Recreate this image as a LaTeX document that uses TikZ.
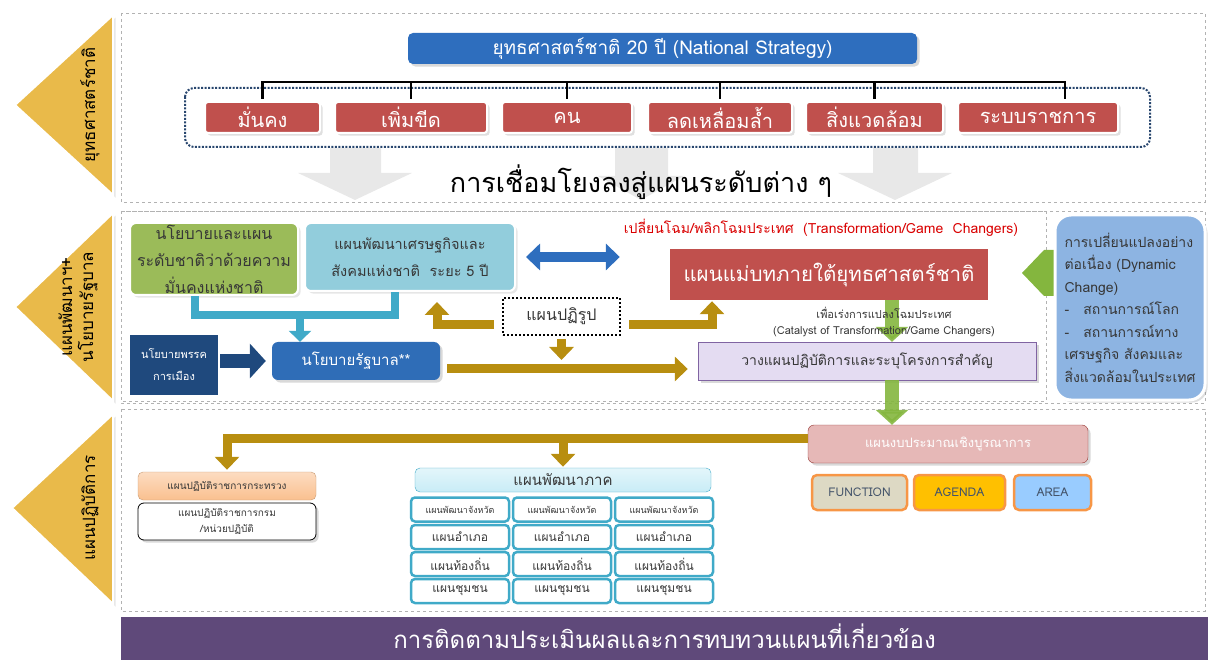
\documentclass[tikz,border=0pt]{standalone}
\usepackage{fontspec}
\setmainfont[Script=Thai]{Loma}
\usetikzlibrary{arrows.meta,shadows}

\definecolor{trigold}{RGB}{233,186,74}
\definecolor{redb}{RGB}{192,80,77}
\definecolor{natblue}{RGB}{46,110,190}
\definecolor{navyd}{RGB}{40,70,110}
\definecolor{goldc}{RGB}{184,142,16}
\definecolor{greenc}{RGB}{132,182,62}
\definecolor{greenbox}{RGB}{155,187,89}
\definecolor{lightbox}{RGB}{146,205,220}
\definecolor{tealc}{RGB}{64,170,200}
\definecolor{partyc}{RGB}{31,73,125}
\definecolor{govc}{RGB}{47,109,183}
\definecolor{dync}{RGB}{141,180,226}
\definecolor{actfill}{RGB}{228,220,242}
\definecolor{actline}{RGB}{128,100,162}
\definecolor{minc}{RGB}{250,192,143}
\definecolor{regc}{RGB}{200,236,246}
\definecolor{budc}{RGB}{230,184,183}
\definecolor{budline}{RGB}{150,55,52}
\definecolor{fnc}{RGB}{221,217,196}
\definecolor{agc}{RGB}{255,192,0}
\definecolor{arc}{RGB}{153,204,255}
\definecolor{kpiline}{RGB}{247,150,70}
\definecolor{kpitext}{RGB}{68,84,106}
\definecolor{evalc}{RGB}{95,73,122}
\definecolor{txt}{RGB}{55,55,55}

\begin{document}
\begin{tikzpicture}[x=1pt, y=-1pt,
  panel/.style={draw=gray!60, dashed, line width=0.5pt},
  tri/.style={fill=trigold, draw=white, line width=2pt, drop shadow={opacity=0.2}},
  tritext/.style={rotate=90, font=\fontsize{17}{21}\selectfont, align=center},
  redbox/.style={fill=redb, draw=white, line width=2pt, rounded corners=3pt, text=white,
    inner sep=0pt, minimum height=31pt, font=\fontsize{20}{22}\selectfont, drop shadow={opacity=0.25}},
  box/.style={rounded corners=6pt, inner sep=0pt, align=center},
  bigdown/.style={fill=gray!18},
  goldline/.style={draw=goldc, line width=9pt},
  goldarr/.style={goldline, -{Triangle[width=24pt,length=13pt]}},
  greenarr/.style={draw=greenc, opacity=0.9, line width=14pt, -{Triangle[width=32pt,length=15pt]}},
  cell/.style={draw=tealc, line width=2.5pt, fill=white, rounded corners=4pt, minimum width=98pt,
    minimum height=24pt, inner sep=0pt, text=txt, font=\fontsize{12}{13}\selectfont},
  kpi/.style={draw=kpiline, line width=2.5pt, rounded corners=5pt, minimum height=35pt, inner sep=0pt,
    text=kpitext, font=\fontsize{12}{14}\selectfont},
]
\useasboundingbox (0,0) rectangle (1208,660);

% แถบด้านซ้าย
\filldraw[tri] (113,15) -- (15,105) -- (113,195) -- cycle;
\filldraw[tri] (113,213) -- (15,307) -- (113,401) -- cycle;
\filldraw[tri] (113,414) -- (12,508) -- (113,604) -- cycle;
\node[tritext] (t1) at (90,105) {ยุทธศาสตร์ชาติ};
\node[tritext] (t2) at (78,307) {แผนพัฒนาฯ+\\นโยบายรัฐบาล};
\node[tritext] (t3) at (90,508) {แผนปฏิบัติการ};

% กรอบแต่ละระดับ
\draw[panel] (121,13) rectangle (1205,202);
\draw[panel] (121,211) rectangle (1205,403);
\draw[panel] (121,211) rectangle (1046,401);
\draw[panel] (121,409) rectangle (1205,611);

% ระดับยุทธศาสตร์ชาติ
\fill[bigdown] (330,148) -- (381,148) -- (381,173) -- (412,173) -- (355,200) -- (298,173) -- (330,173) -- cycle;
\fill[bigdown] (615,148) -- (668,148) -- (668,176) -- (684,176) -- (641,200) -- (598,176) -- (615,176) -- cycle;
\fill[bigdown] (873,148) -- (918,148) -- (918,173) -- (952,173) -- (895,200) -- (838,173) -- (873,173) -- cycle;

\node[box, fill=natblue, text=white, rounded corners=5pt, minimum width=509pt, minimum height=31pt,
  font=\fontsize{19}{21}\selectfont, drop shadow={opacity=0.3}] (nat) at (662.5,48.5)
  {ยุทธศาสตร์ชาติ 20 ปี (National Strategy)};

\draw[navyd, line width=2pt, dash pattern=on 2pt off 1.5pt, rounded corners=9pt] (185,88) rectangle (1150,147);

\node[redbox, minimum width=115pt] (s1) at (262.5,117.5) {มั่นคง};
\node[redbox, minimum width=152pt] (s2) at (411,117.5) {เพิ่มขีด};
\node[redbox, minimum width=130pt] (s3) at (567,117.5) {คน};
\node[redbox, minimum width=144pt] (s4) at (720,117.5) {ลดเหลื่อมล้ำ};
\node[redbox, minimum width=137pt] (s5) at (874.5,117.5) {สิ่งแวดล้อม};
\node[redbox, minimum width=160pt] (s6) at (1038,117.5) {ระบบราชการ};

\coordinate (bar) at (0,82);
\draw[line width=2.5pt] ([yshift=2pt]s1.north) |- (bar -| 1065,0) -- ([xshift=27pt,yshift=2pt]s6.north);
\foreach \s in {s2,s3,s4,s5}
  \draw[line width=2.5pt] ([yshift=2pt]\s.north) -- (\s.north |- bar);

\node[font=\fontsize{27}{30}\selectfont] (link) at (641,182) {การเชื่อมโยงลงสู่แผนระดับต่าง ๆ};

% ระดับแผนพัฒนาฯ และนโยบายรัฐบาล
\node[box, fill=greenbox, draw=white, line width=2pt, text=txt, minimum width=168pt, minimum height=72pt,
  font=\fontsize{16}{27}\selectfont, drop shadow={opacity=0.2}] (g1) at (214,259)
  {นโยบายและแผน\\ระดับชาติว่าด้วยความ\\มั่นคงแห่งชาติ};
\node[box, fill=lightbox, draw=white, line width=2pt, text=txt, minimum width=210pt, minimum height=68pt,
  font=\fontsize{14.5}{27}\selectfont, drop shadow={opacity=0.2}] (b1) at (410,257)
  {แผนพัฒนาเศรษฐกิจและ\\สังคมแห่งชาติ~~ระยะ 5 ปี};
\node[box, fill=redb, rounded corners=0pt, text=white, minimum width=318pt, minimum height=51pt,
  font=\fontsize{20.5}{24}\selectfont] (m1) at (829,274.5) {แผนแม่บทภายใต้ยุทธศาสตร์ชาติ};
\node[text=red!85!black, font=\fontsize{14}{16}\selectfont] (tf) at (821,228)
  {เปลี่ยนโฉม/พลิกโฉมประเทศ~~(Transformation/Game~~Changers)};
\node[box, fill=actfill, draw=actline, rounded corners=0pt, text=txt, minimum width=338pt, minimum height=38pt,
  font=\fontsize{14}{17}\selectfont, drop shadow={opacity=0.3}] (act) at (867,361)
  {วางแผนปฏิบัติการและระบุโครงการสำคัญ};

\draw[greenarr] ([xshift=63pt]m1.south) -- ([xshift=63pt]m1.south |- act.north);
\node[text=txt, font=\fontsize{11}{12}\selectfont] (cat1) at (884,313) {เพื่อเร่งการแปลงโฉมประเทศ};
\node[text=txt, font=\fontsize{11}{12}\selectfont] (cat2) at (884,332) {(Catalyst of Transformation/Game Changers)};

\fill[greenc] (1062,250) -- (1044,250) -- (1022,273) -- (1044,296) -- (1062,296) -- cycle;
\node[box, fill=dync, draw=white, line width=3pt, rounded corners=16pt, text=txt, minimum width=150pt,
  minimum height=185pt, align=left, font=\fontsize{14}{22.5}\selectfont, drop shadow={opacity=0.25}] (dyn) at (1130,307.5)
  {การเปลี่ยนแปลงอย่าง\\ต่อเนื่อง (Dynamic\\Change)\\-\hspace{14pt}สถานการณ์โลก\\-\hspace{14pt}สถานการณ์ทาง\\เศรษฐกิจ สังคมและ\\สิ่งแวดล้อมในประเทศ};

\draw[natblue, line width=10pt, {Triangle[width=26pt,length=14pt]}-{Triangle[width=26pt,length=14pt]},
  shorten <=10pt, shorten >=50pt] (b1.east) -- (b1.east -| m1.west);

\node[box, fill=partyc, rounded corners=0pt, text=white, minimum width=88pt, minimum height=60pt,
  font=\fontsize{11}{22}\selectfont] (party) at (174,365) {นโยบายพรรค\\การเมือง};
\node[box, fill=govc, text=white, minimum width=168pt, minimum height=38pt,
  font=\fontsize{15}{18}\selectfont, drop shadow={opacity=0.3}] (gov) at (356,361) {นโยบายรัฐบาล**};
\node[box, draw=black, rounded corners=0pt, line width=2pt, dash pattern=on 2pt off 2pt, minimum width=117pt,
  minimum height=37pt, text=txt, font=\fontsize{16}{18}\selectfont] (reform) at (561.5,316.5) {แผนปฏิรูป};

\coordinate (tj) at (300,315);
\draw[tealc, line width=8pt] ([xshift=-19pt]g1.south) |- (tj) -| ([xshift=-15pt]b1.south);
\draw[tealc, line width=8pt, -{Triangle[width=22pt,length=11pt]}] (tj) -- (tj |- gov.north);
\draw[partyc, line width=14pt, -{Triangle[width=34pt,length=16pt]}, shorten <=2pt, shorten >=6pt] (party.east |- gov.west) -- (gov.west);

\draw[goldarr, shorten <=8pt, shorten >=10pt] ([yshift=-8pt]reform.west) -| ([xshift=27pt]b1.south);
\draw[goldarr, shorten <=8pt, shorten >=1pt] ([yshift=-8pt]reform.east) -| ([xshift=-117pt]m1.south);
\draw[goldarr, shorten <=3pt] (reform.south) -- ++(0,24);
\draw[goldarr, shorten <=7pt, shorten >=10pt] ([yshift=-8pt]gov.east) -- ([yshift=-8pt]gov.east -| act.west);

% ระดับแผนปฏิบัติการ
\node[box, fill=budc, draw=budline, text=white, minimum width=280pt, minimum height=38pt,
  font=\fontsize{13}{15}\selectfont, drop shadow={opacity=0.3}] (bud) at (948,444) {แผนงบประมาณเชิงบูรณาการ};
\draw[greenarr] ([xshift=25pt]act.south) -- ([xshift=25pt]act.south |- bud.north);

\node[kpi, fill=fnc, minimum width=95pt] (fn) at (859.5,492.5) {FUNCTION};
\node[kpi, fill=agc, minimum width=91pt] (ag) at (959.5,492.5) {AGENDA};
\node[kpi, fill=arc, minimum width=77pt] (ar) at (1052.5,492.5) {AREA};

\node[box, top color=minc!55, bottom color=minc, draw=minc!80!black, rounded corners=5pt, text=txt,
  minimum width=178pt, minimum height=28pt, font=\fontsize{10}{12}\selectfont] (min) at (227,486) {แผนปฏิบัติราชการกระทรวง};
\node[box, fill=white, draw=black, line width=0.8pt, text=txt, minimum width=178pt, minimum height=37pt,
  font=\fontsize{10}{16}\selectfont, drop shadow={opacity=0.3}] (dept) at (227,521.5) {แผนปฏิบัติราชการกรม\\/หน่วยปฏิบัติ};

\node[box, top color=regc!50, bottom color=regc, draw=tealc, rounded corners=5pt, text=txt,
  minimum width=296pt, minimum height=24pt, font=\fontsize{15}{17}\selectfont] (reg) at (563,480) {แผนพัฒนาภาค};

\foreach \c/\x in {1/460,2/562,3/664} {
  \node[cell, font=\fontsize{9}{10}\selectfont] (p\c) at (\x,509.5) {แผนพัฒนาจังหวัด};
  \node[cell] (a\c) at (\x,537) {แผนอำเภอ};
  \node[cell] (l\c) at (\x,564) {แผนท้องถิ่น};
  \node[cell] (c\c) at (\x,591) {แผนชุมชน};
}

\coordinate (gl) at (0,438);
\draw[goldarr, shorten >=2pt] (bud.west |- gl) -| (min.north);
\draw[goldarr, shorten >=1pt] (reg.north |- gl) -- (reg.north);

% แถบติดตามประเมินผล
\fill[evalc] (121,617) rectangle (1208,660);
\node[text=white, inner sep=0pt, font=\fontsize{24}{26}\selectfont] (eval) at (664.5,636)
  {การติดตามประเมินผลและการทบทวนแผนที่เกี่ยวข้อง};

\end{tikzpicture}
\end{document}
